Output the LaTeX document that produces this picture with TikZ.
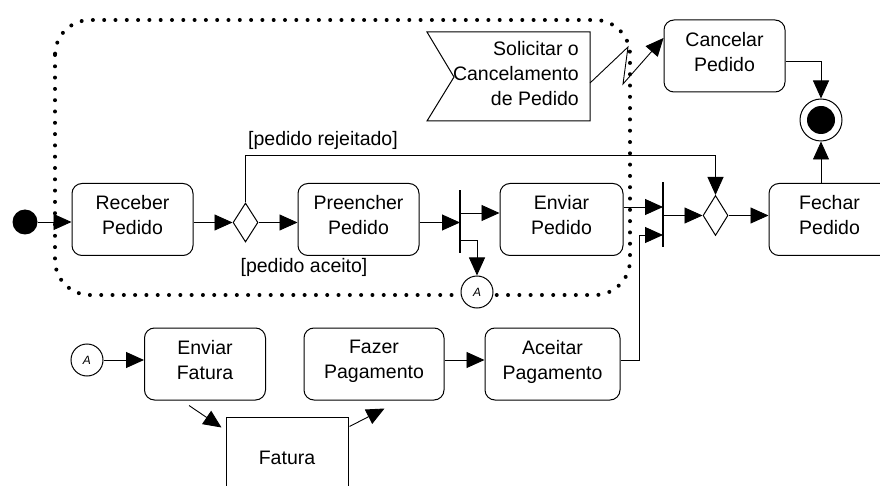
\documentclass[tikz,border=0pt]{standalone}
\usepackage{fontspec}
\setmainfont{Liberation Sans}
\usetikzlibrary{arrows.meta,shapes.geometric,calc}
\newcommand\fsz{\fontsize{19.5}{25}\selectfont}
\newcommand\asz{\fontsize{12}{12}\selectfont\itshape}
\begin{document}
\begin{tikzpicture}[x=1pt,y=-1pt,
  act/.style={draw, line width=1pt, rounded corners=10pt, minimum width=121pt, minimum height=72pt, align=center, inner sep=0pt, font=\fsz, text depth=9pt},
  arr/.style={line width=0.9pt, -{Triangle[length=18pt,width=16pt]}},
  ln/.style={line width=0.9pt},
  dec/.style={diamond, draw, line width=1pt, inner sep=0pt, minimum width=25pt, minimum height=39pt},
  barnode/.style={fill, inner sep=0pt, minimum width=1.2pt},
  conn/.style={circle, draw, fill=white, line width=1pt, minimum size=32pt, inner sep=0pt, font=\asz},
  lbl/.style={font=\fsz, inner sep=0pt}
]
\clip (0,0) rectangle (880,486);
\fill[white] (0,0) rectangle (880,486);
% dotted interruptible region
\draw[line width=4pt, line cap=round, dash pattern=on 0pt off 11.3pt, rounded corners=35pt] (55,20) rectangle (630,295);

% top row
\node[circle, fill, inner sep=0pt, minimum size=25pt] (start) at (25,222) {};
\node[act] (rp) at (132.5,219.5) {Receber\\Pedido};
\node[dec] (d1) at (245.5,222.5) {};
\node[act] (pp) at (358.5,219.5) {Preencher\\Pedido};
\node[barnode, minimum height=63pt] (fork) at (460,221.5) {};
\node[act, minimum width=123pt] (ep) at (561.5,219.5) {Enviar\\Pedido};
\node[barnode, minimum height=65pt] (join) at (663,214.5) {};
\node[dec, minimum height=40pt] (d2) at (715.5,215.5) {};
\node[act] (fp) at (829.5,219.5) {Fechar\\Pedido};
\node[circle, draw, line width=1pt, minimum size=42pt, inner sep=0pt] (fin) at (821,120) {};
\node[circle, fill, minimum size=28pt, inner sep=0pt] (finin) at (fin) {};
\node[act] (cp) at (724.5,56) {Cancelar\\Pedido};
\node[conn] (a1) at (477,292) {A};

% signal
\draw[line width=1pt] (427,32) -- (590,32) -- (590,121) -- (427,121) -- (454,77) -- cycle;
\node[lbl, align=right, anchor=east] (sol) at (579,74) {Solicitar o\\Cancelamento\\de Pedido};
\coordinate (s1) at (590,83);
\coordinate (z1) at (628,47);
\coordinate (z2) at (623,84);
\draw[arr] (s1) -- (z1) -- (z2) -- ([yshift=18pt]cp.west);

% labels
\node[lbl] (lr) at (323,140) {[pedido rejeitado]};
\node[lbl] (la) at (304,267) {[pedido aceito]};

% top connectors
\draw[arr] (start.east) -- (rp.west |- start.east);
\draw[arr] (rp.east |- d1.west) -- (d1.west);
\draw[arr] (d1.east) -- (pp.west |- d1.east);
\draw[arr] (pp.east |- d1.west) -- (fork.center |- d1.west);
\draw[arr] ($(fork.center)+(0,-8.5)$) -- (ep.west |- {$(fork.center)+(0,-8.5)$});
\draw[arr] ($(fork.center)+(0,18.5)$) -| (a1.north);
\draw[arr] ($(ep.east)+(0,-12.5)$) -- (join.center |- {$(ep.east)+(0,-12.5)$});
\draw[arr] (join.center |- d2.west) -- (d2.west);
\draw[arr] (d1.north) -- ++(0,-47) -| (d2.north);
\draw[arr] (d2.east) -- (fp.west |- d2.east);
\draw[arr] (fin.south |- fp.north) -- (fin.south);
\draw[arr] ($(cp.east)+(0,5)$) -| (fin.north);

% bottom row
\node[conn] (a2) at (87,360) {A};
\node[act] (ef) at (205,364) {Enviar\\Fatura};
\node[act, minimum width=140pt] (fz) at (374,364) {Fazer\\Pagamento};
\node[act, minimum width=135pt] (ap) at (552.5,364) {Aceitar\\Pagamento};
\node[draw, line width=1pt, minimum width=122pt, minimum height=82pt, font=\fsz] (fat) at (287,458) {Fatura};

\draw[arr] (a2.east) -- (ef.west |- a2.east);
\draw[arr] ($(fz.east)+(0,-4)$) -- ($(ap.west)+(0,-4)$);
\coordinate (c1) at (639,235);
\draw[arr] ($(ap.east)+(0,-4)$) -| (c1) -- (join.center |- c1);
\draw[arr] ($(ef.south west)+(45,5)$) -- ($(fat.north west)+(-4,11)$);
\draw[arr] ($(fat.north east)+(1,10)$) -- ($(fz.south west)+(81,8)$);
\end{tikzpicture}
\end{document}
